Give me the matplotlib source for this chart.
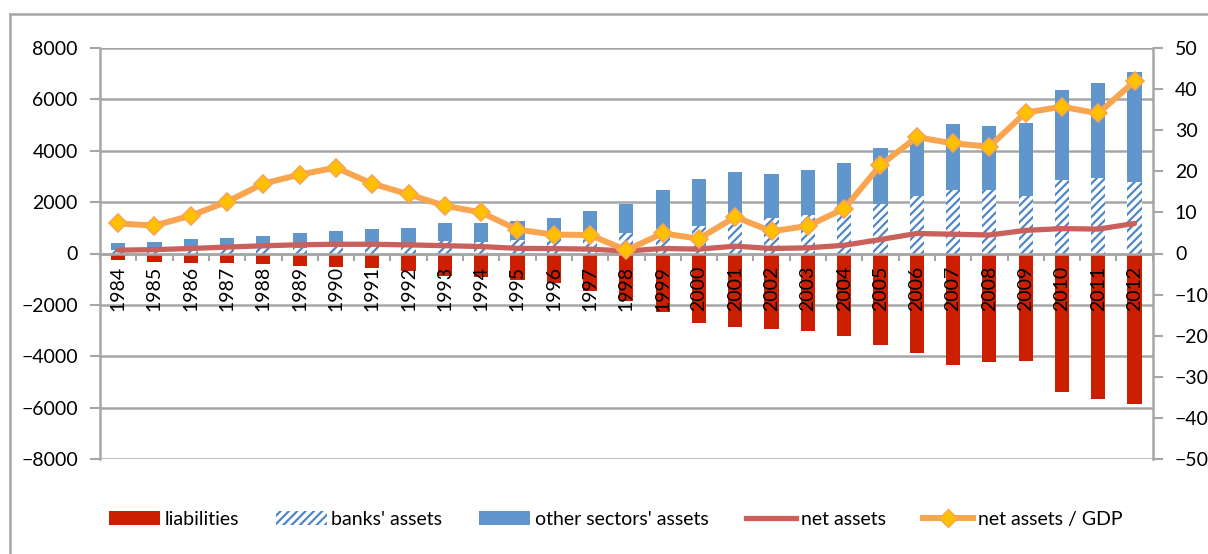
import numpy as np
import matplotlib
matplotlib.use("Agg")
import matplotlib.pyplot as plt
from matplotlib.lines import Line2D
from matplotlib.patches import Patch

plt.rcParams['font.family'] = ['Lato', 'DejaVu Sans']
plt.rcParams['hatch.linewidth'] = 1.6

# -----------------------------
# Data
# -----------------------------
years = list(range(1984, 2013))

liabilities = [-260, -325, -362, -362, -390, -480, -520, -580, -690, -880,
               -920, -1035, -1165, -1465, -1840, -2295, -2725, -2880, -2920, -3020,
               -3205, -3565, -3890, -4345, -4230, -4190, -5410, -5680, -5860]

banks_assets = [120, 130, 150, 170, 200, 230, 250, 280, 320, 470,
                460, 520, 560, 600, 800, 950, 1075, 1400, 1380, 1490,
                1720, 1920, 2245, 2490, 2465, 2245, 2880, 2920, 2790]

other_assets = [295, 335, 410, 415, 475, 575, 630, 665, 690, 710,
                730, 740, 840, 1045, 1145, 1540, 1815, 1765, 1720, 1780,
                1815, 2190, 2360, 2570, 2490, 2840, 3500, 3735, 4280]

net_assets = [130, 150, 195, 250, 300, 340, 360, 360, 335, 305,
              270, 200, 190, 170, 95, 195, 170, 285, 195, 220,
              320, 545, 780, 750, 720, 900, 970, 950, 1170]

net_gdp = [7.3, 6.8, 9.2, 12.6, 17.0, 19.2, 20.9, 17.0, 14.4, 11.6,
           10.0, 5.8, 4.6, 4.5, 0.8, 4.9, 3.6, 8.9, 5.4, 6.7,
           10.9, 21.5, 28.3, 26.8, 26.0, 34.3, 35.7, 34.1, 41.9]

# -----------------------------
# Figure
# -----------------------------
fig = plt.figure(figsize=(12.08, 5.54), dpi=100)
ax = fig.add_axes([100/1208, 1 - 459/554, 1052.7/1208, 411/554])
ax2 = ax.twinx()

grid_c = '#a6a6a6'
red = '#cc1f00'
blue = '#6096cb'
hatch_c = '#4f86c6'
net_c = '#c9605b'
orange = '#f9a54f'
gold = '#ffc000'

x = np.arange(len(years))
w = 0.39

ax.bar(x, liabilities, w, color=red, zorder=3)
ax.bar(x, banks_assets, w, facecolor='white', edgecolor=hatch_c,
       hatch='////', linewidth=0, zorder=3)
ax.bar(x, other_assets, w, bottom=banks_assets, color=blue, zorder=3)
ax.plot(x, net_assets, color=net_c, lw=3.8, zorder=4, solid_capstyle='round')

ax2.plot(x, net_gdp, color=orange, lw=4.3, marker='D', markersize=9,
         markerfacecolor=gold, markeredgecolor=orange, markeredgewidth=1.2,
         zorder=5)

# axes styling
ax.set_xlim(-0.5, len(years) - 0.5)
ax.set_ylim(-8000, 8000)
ax.set_yticks(range(-8000, 8001, 2000))
ax2.set_ylim(-50, 50)
ax2.set_yticks(range(-50, 51, 10))

ax.grid(axis='y', color=grid_c, lw=1.8, zorder=0)
ax.set_axisbelow(True)

for a in (ax, ax2):
    a.spines['top'].set_visible(False)
    for s in ('left', 'right', 'bottom'):
        a.spines[s].set_color(grid_c)
        a.spines[s].set_linewidth(1.8)
ax2.spines['bottom'].set_visible(False)
ax2.spines['left'].set_visible(False)
ax.spines['right'].set_visible(False)
ax.spines['bottom'].set_position(('data', 0))
ax.spines['bottom'].set_zorder(3.5)

ax.set_xticks(x)
ax.set_xticklabels([str(y) for y in years], rotation=90, va='top')
ax.tick_params(axis='x', length=0, pad=9, labelsize=14)
ax.set_xticks(np.arange(-0.5, len(years), 1), minor=True)
ax.tick_params(axis='x', which='minor', length=5, width=1.5, color=grid_c,
               direction='out')
# year labels sit on top of the red bars
ax.xaxis.set_zorder(6)

ax.tick_params(axis='y', length=7, width=1.5, color=grid_c, labelsize=14, pad=9)
ax2.tick_params(axis='y', length=7, width=1.5, color=grid_c, labelsize=14, pad=9)

# legend
handles = [
    Patch(facecolor=red, edgecolor='none'),
    Patch(facecolor='white', edgecolor=hatch_c, hatch='////', linewidth=0),
    Patch(facecolor=blue, edgecolor='none'),
    Line2D([], [], color=net_c, lw=3.8),
    Line2D([], [], color=orange, lw=4.3, marker='D', markersize=9,
           markerfacecolor=gold, markeredgecolor=orange),
]
labels = ['liabilities', "banks' assets", "other sectors' assets",
          'net assets', 'net assets / GDP']
fig.legend(handles, labels, loc='center', bbox_to_anchor=(0.51, 0.062),
           ncol=5, frameon=False, fontsize=14, handlelength=2.6,
           handleheight=0.75, handletextpad=0.25, columnspacing=1.9,
           numpoints=1)

# outer frame of the chart area
fig.add_artist(Line2D([10/1208, 1.0], [1 - 14/554, 1 - 14/554],
                      color=grid_c, lw=1.8, transform=fig.transFigure))
fig.add_artist(Line2D([10/1208, 10/1208], [0, 1 - 14/554],
                      color=grid_c, lw=1.8, transform=fig.transFigure))

fig.savefig("out.png", dpi=100)
